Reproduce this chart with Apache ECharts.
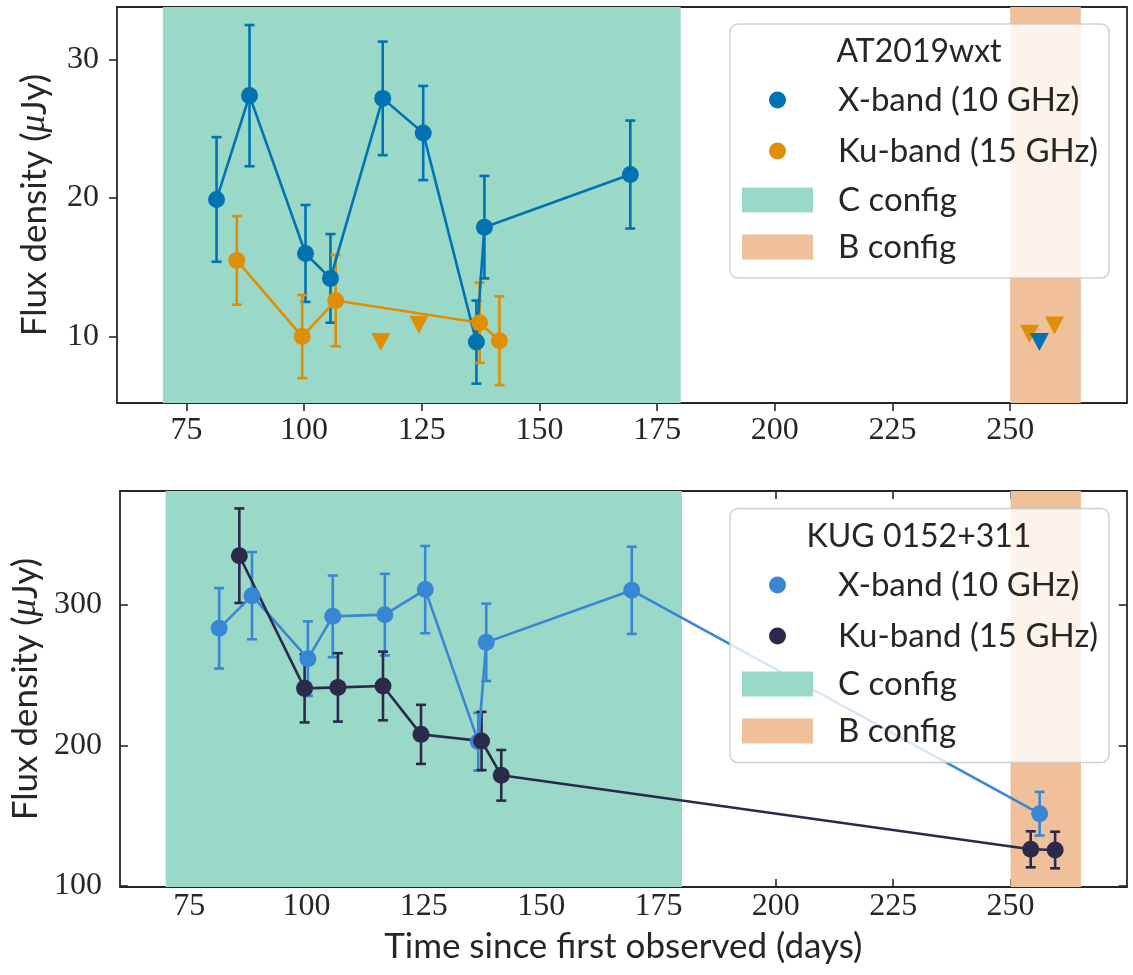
<!DOCTYPE html>
<html>
<head>
<meta charset="utf-8">
<script src="https://cdn.jsdelivr.net/npm/echarts@6/dist/echarts.min.js"></script>
<style>
  html, body { margin: 0; padding: 0; background: #ffffff; }
  #chart { width: 1133px; height: 975px; }
</style>
</head>
<body>
<div id="chart"></div>
<script>
// ---- AT2019wxt ----
// X-band (10 GHz) detections: day, flux density (uJy), 1-sigma error
const wxtXDays = [81.4, 88.4, 100.3, 105.6, 116.7, 125.3, 136.6, 138.3, 169.3];
const wxtXFlux = [19.9, 27.4, 16.0, 14.2, 27.2, 24.7, 9.6, 17.9, 21.7];
const wxtXErr  = [4.5, 5.1, 3.5, 3.2, 4.1, 3.4, 3.0, 3.7, 3.9];
// X-band upper limits
const wxtXLimDays = [256.2];
const wxtXLimFlux = [9.6];
// Ku-band (15 GHz) detections
const wxtKuDays = [85.7, 99.6, 106.7, 137.3, 141.5];
const wxtKuFlux = [15.5, 10.0, 12.6, 11.0, 9.7];
const wxtKuErr  = [3.2, 3.0, 3.3, 2.9, 3.2];
// Ku-band upper limits
const wxtKuLimDays = [116.3, 124.4, 254.1, 259.4];
const wxtKuLimFlux = [9.6, 10.85, 10.2, 10.8];

// ---- KUG 0152+311 ----
const kugXDays = [81.4, 88.4, 100.3, 105.6, 116.7, 125.3, 136.6, 138.3, 169.3, 256.2];
const kugXFlux = [283.2, 306.4, 261.6, 291.7, 292.9, 310.7, 202.6, 273.2, 310.2, 151.4];
const kugXErr  = [28.6, 31.0, 26.5, 29.0, 29.0, 31.0, 20.5, 27.5, 31.0, 15.5];
const kugKuDays = [85.7, 99.6, 106.7, 116.3, 124.4, 137.3, 141.5, 254.3, 259.5];
const kugKuFlux = [334.8, 240.5, 241.2, 242.2, 207.8, 203.1, 178.7, 126.1, 125.6];
const kugKuErr  = [33.6, 24.2, 24.3, 24.4, 21.0, 20.7, 18.0, 12.8, 13.0];

// VLA array configuration periods (days)
const cConfig = [70, 180];
const bConfig = [250, 265];

// Tick positions
const xTicks = [75, 100, 125, 150, 175, 200, 225, 250];
const wxtYTicks = [10, 20, 30];
const kugYTicks = [100, 200, 300];

// Axis ranges
const xRange = [60.25, 274.75];
const wxtYRange = [5.2, 33.8];
const kugYRange = [99.3, 380.8];

// Colours
const INK = '#262626';
const C_CONF = '#9ad8c8';
const B_CONF = '#efc09a';
const WXT_X = '#0173b2';
const WXT_KU = '#de8f05';
const KUG_X = '#3887d4';
const KUG_KU = '#2c2a4a';

const SANS = 'Lato, "Open Sans", sans-serif';
const SERIF = '"Liberation Serif", "DejaVu Serif", serif';
const LEGEND_FONT = 33;
const LEGEND_LINE = 33;

const pairs = (xs, ys) => xs.map((x, i) => [x, ys[i]]);
const bars = (xs, ys, es) => xs.map((x, i) => [x, ys[i] - es[i], ys[i] + es[i]]);

function spanSeries(name, axis, range, color) {
  return {
    type: 'custom', name, xAxisIndex: axis, yAxisIndex: axis, z: 1, silent: true,
    data: [range], encode: { x: [0, 1] },
    itemStyle: { color },
    renderItem(params, api) {
      const cs = params.coordSys;
      const x0 = api.coord([api.value(0), 0])[0];
      const x1 = api.coord([api.value(1), 0])[0];
      return { type: 'rect', shape: { x: x0, y: cs.y, width: x1 - x0, height: cs.height },
               style: { fill: color } };
    }
  };
}

function errorSeries(axis, data, color) {
  return {
    type: 'custom', xAxisIndex: axis, yAxisIndex: axis, z: 3, silent: true,
    data, encode: { x: 0, y: [1, 2] },
    itemStyle: { color },
    renderItem(params, api) {
      const x = api.value(0);
      const lo = api.coord([x, api.value(1)]);
      const hi = api.coord([x, api.value(2)]);
      const c = 5;
      const st = { stroke: color, lineWidth: 2.6 };
      return { type: 'group', children: [
        { type: 'line', shape: { x1: lo[0], y1: lo[1], x2: hi[0], y2: hi[1] }, style: st },
        { type: 'line', shape: { x1: lo[0] - c, y1: lo[1], x2: lo[0] + c, y2: lo[1] }, style: st },
        { type: 'line', shape: { x1: hi[0] - c, y1: hi[1], x2: hi[0] + c, y2: hi[1] }, style: st }
      ] };
    }
  };
}

function pointSeries(name, axis, data, color) {
  return {
    type: 'line', name, xAxisIndex: axis, yAxisIndex: axis, z: 3, silent: true,
    data, symbol: 'circle', symbolSize: 17, showSymbol: true, showAllSymbol: true,
    itemStyle: { color, borderWidth: 0, opacity: 1 },
    lineStyle: { color, width: 2.6 },
    emphasis: { disabled: true }
  };
}

function limitSeries(axis, data, color) {
  return {
    type: 'scatter', xAxisIndex: axis, yAxisIndex: axis, z: 3, silent: true,
    data, symbol: 'triangle', symbolRotate: 180, symbolSize: [19, 18],
    itemStyle: { color, borderWidth: 0, opacity: 1 },
    emphasis: { disabled: true }
  };
}

const axisLine = { show: true, onZero: false, lineStyle: { color: INK, width: 1.8 } };
const tickStyle = { color: INK, width: 1.6 };

function xAxes(grid, inside, labelMargin, withName) {
  const main = {
    type: 'value', gridIndex: grid, position: 'bottom', min: xRange[0], max: xRange[1],
    axisLine,
    splitLine: { show: false },
    axisTick: { show: true, inside, length: 8, customValues: xTicks, lineStyle: tickStyle },
    axisLabel: { show: true, customValues: xTicks, margin: labelMargin,
                 fontFamily: SERIF, fontSize: 32, color: INK }
  };
  if (withName) {
    main.name = 'Time since first observed (days)';
    main.nameLocation = 'middle';
    main.nameGap = 42;
    main.nameTextStyle = { fontFamily: SANS, fontSize: 35, color: INK };
  }
  const top = {
    type: 'value', gridIndex: grid, position: 'top', min: xRange[0], max: xRange[1],
    axisLine, splitLine: { show: false }, axisLabel: { show: false },
    axisTick: { show: inside, inside: true, length: 8, customValues: xTicks, lineStyle: tickStyle }
  };
  return [main, top];
}

function yAxes(grid, range, ticks, inside) {
  const main = {
    type: 'value', gridIndex: grid, position: 'left', min: range[0], max: range[1],
    axisLine, splitLine: { show: false },
    axisTick: { show: true, inside, length: 8, customValues: ticks, lineStyle: tickStyle },
    axisLabel: { show: true, customValues: ticks, margin: 18,
                 fontFamily: SERIF, fontSize: 32, color: INK },
    name: 'Flux density ({m|\u03bc}Jy)', nameLocation: 'middle', nameRotate: 90, nameGap: 65,
    nameTextStyle: { fontFamily: SANS, fontSize: 35, color: INK,
      rich: { m: { fontFamily: SERIF, fontStyle: 'italic', fontSize: 35, color: INK } } }
  };
  const right = {
    type: 'value', gridIndex: grid, position: 'right', min: range[0], max: range[1],
    axisLine, splitLine: { show: false }, axisLabel: { show: false },
    axisTick: { show: inside, inside: true, length: 8, customValues: ticks, lineStyle: tickStyle }
  };
  return [main, right];
}

// Legend rows: markers centred at x = 777.5, labels start at x = 838
function markerLegend(rowY, xColor, kuColor) {
  return {
    orient: 'vertical', left: 769, top: rowY - LEGEND_LINE / 2, padding: 0, z: 60, selectedMode: false,
    itemWidth: 17, itemHeight: 17, itemGap: 51 - LEGEND_LINE,
    textStyle: { fontFamily: SANS, fontSize: LEGEND_FONT, color: INK, lineHeight: LEGEND_LINE,
                 padding: [0, 0, 0, 47] },
    data: [
      { name: 'X-band (10 GHz)', icon: 'circle', itemStyle: { color: xColor, borderWidth: 0 } },
      { name: 'Ku-band (15 GHz)', icon: 'circle', itemStyle: { color: kuColor, borderWidth: 0 } }
    ]
  };
}

function configLegend(rowY) {
  return {
    orient: 'vertical', left: 742, top: rowY - LEGEND_LINE / 2, padding: 0, z: 60, selectedMode: false,
    itemWidth: 71, itemHeight: 25, itemGap: 47 - LEGEND_LINE,
    textStyle: { fontFamily: SANS, fontSize: LEGEND_FONT, color: INK, lineHeight: LEGEND_LINE,
                 padding: [0, 0, 0, 20] },
    data: [
      { name: 'C config', icon: 'rect', itemStyle: { color: C_CONF, borderWidth: 0 } },
      { name: 'B config', icon: 'rect', itemStyle: { color: B_CONF, borderWidth: 0 } }
    ]
  };
}

function legendFrame(y, title, titleY) {
  return [
    { type: 'rect', z: 50, silent: true,
      shape: { x: 730, y, width: 379, height: 254, r: 8 },
      style: { fill: 'rgba(255,255,255,0.8)', stroke: 'rgba(200,200,200,0.85)', lineWidth: 1.5 } },
    { type: 'text', z: 55, silent: true, x: 919, y: titleY,
      style: { text: title, fontFamily: SANS, fontSize: 32, fill: INK,
               align: 'center', verticalAlign: 'middle' } }
  ];
}

const [x0, x1] = xAxes(0, false, 12, false);
const [x2, x3] = xAxes(1, true, 4, true);
const [y0, y1] = yAxes(0, wxtYRange, wxtYTicks, false);
const [y2, y3] = yAxes(1, kugYRange, kugYTicks, true);

const option = {
  animation: false,
  backgroundColor: '#ffffff',
  grid: [
    { left: 117, right: 6.3, top: 7, height: 396 },
    { left: 117, right: 6.3, top: 491, height: 396 }
  ],
  xAxis: [x0, x2, x1, x3],
  yAxis: [y0, y2, y1, y3],
  legend: [
    markerLegend(100, WXT_X, WXT_KU),
    configLegend(200),
    markerLegend(585, KUG_X, KUG_KU),
    configLegend(684)
  ],
  graphic: [
    ...legendFrame(24, 'AT2019wxt', 52),
    ...legendFrame(508.5, 'KUG 0152+311', 537)
  ],
  series: [
    // AT2019wxt panel (axes 0)
    spanSeries('C config', 0, cConfig, C_CONF),
    spanSeries('B config', 0, bConfig, B_CONF),
    errorSeries(0, bars(wxtXDays, wxtXFlux, wxtXErr), WXT_X),
    pointSeries('X-band (10 GHz)', 0, pairs(wxtXDays, wxtXFlux), WXT_X),
    errorSeries(0, bars(wxtKuDays, wxtKuFlux, wxtKuErr), WXT_KU),
    pointSeries('Ku-band (15 GHz)', 0, pairs(wxtKuDays, wxtKuFlux), WXT_KU),
    limitSeries(0, pairs(wxtKuLimDays, wxtKuLimFlux), WXT_KU),
    limitSeries(0, pairs(wxtXLimDays, wxtXLimFlux), WXT_X),
    // KUG 0152+311 panel (axes 1)
    spanSeries('C config', 1, cConfig, C_CONF),
    spanSeries('B config', 1, bConfig, B_CONF),
    errorSeries(1, bars(kugXDays, kugXFlux, kugXErr), KUG_X),
    pointSeries('X-band (10 GHz)', 1, pairs(kugXDays, kugXFlux), KUG_X),
    errorSeries(1, bars(kugKuDays, kugKuFlux, kugKuErr), KUG_KU),
    pointSeries('Ku-band (15 GHz)', 1, pairs(kugKuDays, kugKuFlux), KUG_KU)
  ]
};

const chart = echarts.init(document.getElementById('chart'), null, { renderer: 'canvas' });
chart.setOption(option);
</script>
</body>
</html>
